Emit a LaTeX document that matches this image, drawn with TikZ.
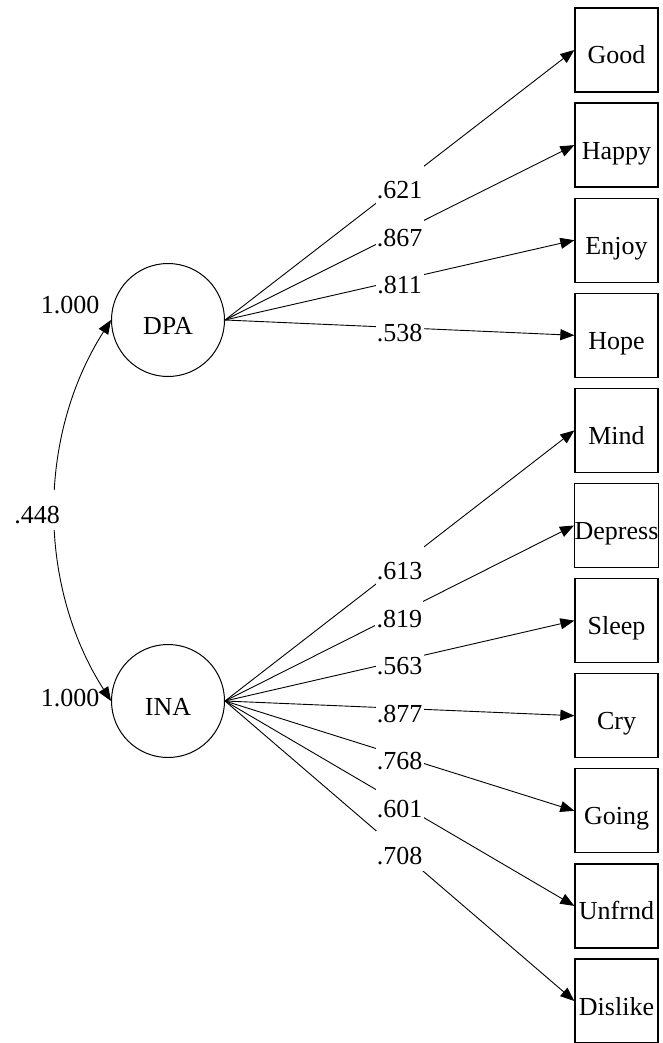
\documentclass[tikz,border=0pt]{standalone}
\usepackage{fontspec}
\setmainfont{Liberation Serif}
\usetikzlibrary{arrows.meta}
\begin{document}
\begin{tikzpicture}[x=1pt,y=-1pt,
  every node/.style={font=\fontsize{26}{31}\selectfont},
  latent/.style={circle, draw, line width=1pt, minimum size=113pt, inner sep=0pt,
                 text height=28pt, text depth=0pt},
  obs/.style={draw, line width=1.3pt, minimum width=83pt, minimum height=84pt,
              inner sep=0pt, text height=28pt, text depth=0pt},
  load/.style={line width=0.9pt, -{Triangle[length=14pt,width=11pt]}},
  cov/.style={line width=0.9pt, {Triangle[length=14pt,width=11pt]}-{Triangle[length=14pt,width=11pt]}},
  lbl/.style={fill=white, inner sep=0pt, minimum width=48pt, minimum height=40pt,
              text height=27.6pt, text depth=0pt}]
\useasboundingbox (0,0) rectangle (662,1043);

% latent factors
\node[latent] (DPA) at (168,320) {DPA};
\node[latent] (INA) at (168,701) {INA};

% indicators
\foreach \name [count=\i from 0] in {Good,Happy,Enjoy,Hope,Mind,Depress,Sleep,Cry,Going,Unfrnd,Dislike}
  \node[obs] (\name) at (616.5,{50+95.1*\i}) {\name};

% loadings of DPA
\draw[load] (DPA.east) -- node[lbl] {.621} (Good.west);
\draw[load] (DPA.east) -- node[lbl] {.867} (Happy.west);
\draw[load] (DPA.east) -- node[lbl] {.811} (Enjoy.west);
\draw[load] (DPA.east) -- node[lbl] {.538} (Hope.west);

% loadings of INA
\draw[load] (INA.east) -- node[lbl] {.613} (Mind.west);
\draw[load] (INA.east) -- node[lbl] {.819} (Depress.west);
\draw[load] (INA.east) -- node[lbl] {.563} (Sleep.west);
\draw[load] (INA.east) -- node[lbl] {.877} (Cry.west);
\draw[load] (INA.east) -- node[lbl] {.768} (Going.west);
\draw[load] (INA.east) -- node[lbl] {.601} (Unfrnd.west);
\draw[load] (INA.east) -- node[lbl] {.708} (Dislike.west);

% factor covariance
\draw[cov] (DPA.west) .. controls (37,436) and (37,585) .. (INA.west);
\node[lbl] (covlabel) at (37,510) {.448};

% factor variances
\node (vDPA) at (70,305) {1.000};
\node (vINA) at (70,698) {1.000};
\end{tikzpicture}
\end{document}
